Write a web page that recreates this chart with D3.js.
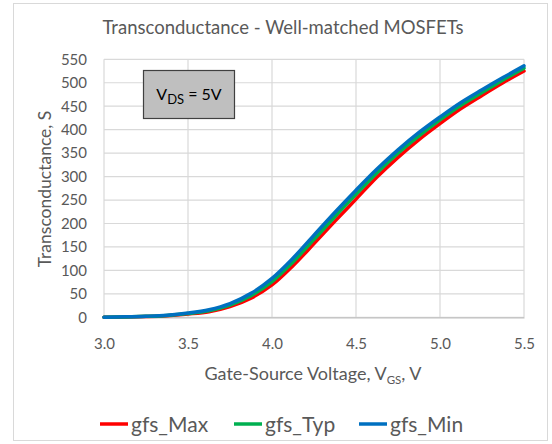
<!DOCTYPE html>
<html>
<head>
<meta charset="utf-8">
<script src="https://cdn.jsdelivr.net/npm/d3@7"></script>
<style>
  html, body { margin: 0; padding: 0; background: #fff; }
  svg { display: block; }
  text { font-family: Lato, "Open Sans", sans-serif; fill: #595959; }
</style>
</head>
<body>
<svg id="chart" width="552" height="444"></svg>
<script>
// Gate-source voltage samples (V)
const vgs = [3.0, 3.125, 3.25, 3.375, 3.5, 3.625, 3.75, 3.875, 4.0, 4.125, 4.25,
             4.375, 4.5, 4.625, 4.75, 4.875, 5.0, 5.125, 5.25, 5.375, 5.5];

// Transconductance curves (S)
const gfsMax = [0, 0.6, 1.6, 3.4, 7, 12, 23, 41, 69, 110, 157,
                205, 252, 299, 341, 379, 413, 445, 473, 500, 525];
const gfsTyp = [0, 0.8, 2, 4, 8, 14, 26, 46, 76, 118, 166,
                215, 262, 308, 350, 387, 421, 452, 479, 506, 531];
const gfsMin = [0.3, 1, 2.3, 4.5, 9, 16, 29, 51, 83, 126, 175,
                224, 271, 316, 357, 394, 427, 458, 485, 511, 536];

const seriesNames = ["gfs_Max", "gfs_Typ", "gfs_Min"];
const seriesValues = [gfsMax, gfsTyp, gfsMin];
const seriesColors = ["#ff0000", "#00b050", "#0070c0"];

const xTicks = [3.0, 3.5, 4.0, 4.5, 5.0, 5.5];
const yTicks = d3.range(0, 551, 50);

const svg = d3.select("#chart");

// outer chart frame
svg.append("rect")
  .attr("x", 13.5).attr("y", 3.5)
  .attr("width", 534).attr("height", 437)
  .attr("fill", "#fff").attr("stroke", "#d9d9d9");

const x = d3.scaleLinear().domain([3.0, 5.5]).range([104, 524]);
const y = d3.scaleLinear().domain([0, 550]).range([317.3, 59.3]);

// gridlines
const grid = svg.append("g").attr("stroke", "#d9d9d9").attr("stroke-width", 1.2);
grid.selectAll("line.h").data(yTicks).join("line")
  .attr("x1", x(3.0)).attr("x2", x(5.5))
  .attr("y1", d => y(d)).attr("y2", d => y(d));
grid.selectAll("line.v").data(xTicks).join("line")
  .attr("x1", d => x(d)).attr("x2", d => x(d))
  .attr("y1", y(0)).attr("y2", y(550));

// axes (labels only, Excel style)
const yAxis = svg.append("g")
  .attr("transform", `translate(${x(3.0) - 17},0)`)
  .call(d3.axisLeft(y).tickValues(yTicks).tickSize(0).tickPadding(0));
yAxis.select(".domain").remove();
yAxis.selectAll("text")
  .style("font-size", "15px").style("fill", "#595959")
  .attr("font-family", "Lato");

const xAxis = svg.append("g")
  .attr("transform", `translate(0,${y(0)})`)
  .call(d3.axisBottom(x).tickValues(xTicks).tickFormat(d3.format(".1f")).tickSize(0).tickPadding(21));
xAxis.select(".domain").attr("stroke", "#bfbfbf").attr("stroke-width", 1.2);
xAxis.selectAll("text")
  .style("font-size", "15px").style("fill", "#595959")
  .attr("font-family", "Lato");

// curves
const line = d3.line()
  .x((d, i) => x(vgs[i]))
  .y(d => y(d))
  .curve(d3.curveCatmullRom.alpha(0.5));

svg.append("g").selectAll("path").data(seriesValues).join("path")
  .attr("d", d => line(d))
  .attr("fill", "none")
  .attr("stroke", (d, i) => seriesColors[i])
  .attr("stroke-width", 3.5)
  .attr("stroke-linecap", "round");

// chart title
svg.append("text")
  .attr("x", 283).attr("y", 34)
  .attr("text-anchor", "middle")
  .style("font-size", "18.5px")
  .text("Transconductance  - Well-matched MOSFETs");

// y-axis title
svg.append("text")
  .attr("transform", "translate(51,189) rotate(-90)")
  .attr("text-anchor", "middle")
  .style("font-size", "17.5px")
  .text("Transconductance, S");

// x-axis title with subscript
const xt = svg.append("text")
  .attr("x", 313).attr("y", 380)
  .attr("text-anchor", "middle")
  .style("font-size", "18px");
xt.append("tspan").text("Gate-Source Voltage, V");
xt.append("tspan").text("GS").attr("dy", 4).style("font-size", "11.5px");
xt.append("tspan").text(", V").attr("dy", -4);

// condition box
svg.append("rect")
  .attr("x", 143.5).attr("y", 70.5)
  .attr("width", 91).attr("height", 48)
  .attr("fill", "#bfbfbf").attr("stroke", "#404040").attr("stroke-width", 1.2);
const bt = svg.append("text")
  .attr("x", 189).attr("y", 100)
  .attr("text-anchor", "middle")
  .style("font-size", "16px")
  .style("fill", "#000");
bt.append("tspan").text("V");
bt.append("tspan").text("DS").attr("dy", 4).style("font-size", "13px");
bt.append("tspan").text(" = 5V").attr("dy", -4);

// legend
const legendX = [100, 234, 359];
const lg = svg.append("g").selectAll("g").data(seriesNames).join("g")
  .attr("transform", (d, i) => `translate(${legendX[i]},424)`);
lg.append("line")
  .attr("x1", 0).attr("x2", 28).attr("y1", 0).attr("y2", 0)
  .attr("stroke", (d, i) => seriesColors[i]).attr("stroke-width", 3.5);
lg.append("text")
  .attr("x", 31).attr("y", 7.5)
  .style("font-size", "21px")
  .text(d => d);
</script>
</body>
</html>
